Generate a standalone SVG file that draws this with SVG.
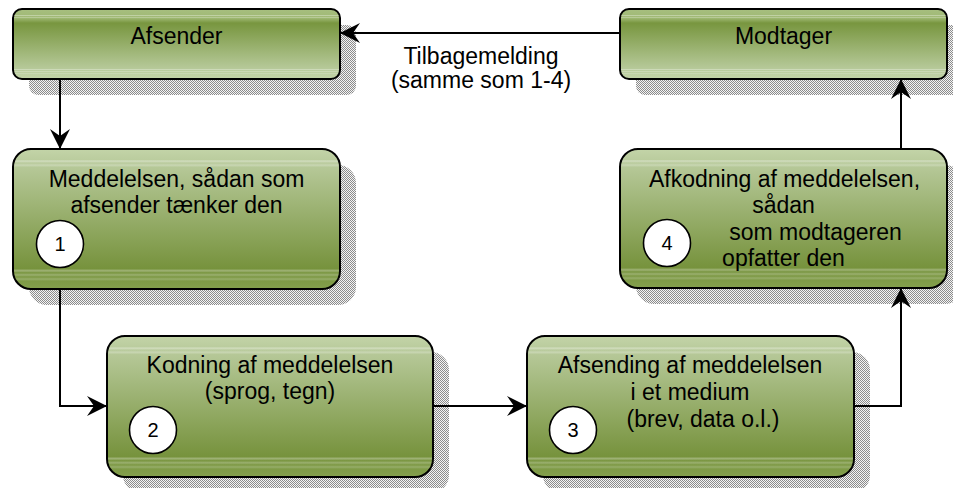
<svg xmlns="http://www.w3.org/2000/svg" width="953" height="488" viewBox="0 0 953 488">
  <defs>
    <style>
      .box { stroke: #000; stroke-width: 2; }
      .top { fill: url(#gDown); }
      .step { fill: url(#gUp); }
      .gloss { fill: url(#gGloss); stroke: none; }
      .shadow { fill: url(#dither); }
      .lbl { font-family: "Liberation Sans", Arial, sans-serif; font-size: 23px; fill: #000; text-anchor: middle; }
      .num { font-family: "Liberation Sans", Arial, sans-serif; font-size: 20px; fill: #000; text-anchor: middle; }
      .badge { fill: #fff; stroke: #000; stroke-width: 1.6; }
      .wire { fill: none; stroke: #000; stroke-width: 2; marker-end: url(#arrow); }
    </style>
    <!-- dithered drop shadow -->
    <pattern id="dither" width="2" height="2" patternUnits="userSpaceOnUse">
      <rect x="0" y="0" width="1" height="1" fill="#8c8c8c"/>
      <rect x="1" y="1" width="1" height="1" fill="#8c8c8c"/>
      <rect x="1" y="0" width="1" height="1" fill="#f4f4f4"/>
      <rect x="0" y="1" width="1" height="1" fill="#f4f4f4"/>
    </pattern>
    <!-- party boxes: dark at top, light at bottom -->
    <linearGradient id="gDown" x1="0" y1="0" x2="0" y2="1">
      <stop offset="0" stop-color="#a7bf80"/>
      <stop offset="0.13" stop-color="#9fb873"/>
      <stop offset="0.2" stop-color="#78963f"/>
      <stop offset="0.85" stop-color="#b6c999"/>
      <stop offset="1" stop-color="#c3d4a8"/>
    </linearGradient>
    <!-- process boxes: light at top, dark at bottom -->
    <linearGradient id="gUp" x1="0" y1="0" x2="0" y2="1">
      <stop offset="0" stop-color="#c3d4a8"/>
      <stop offset="0.1" stop-color="#b8ca9b"/>
      <stop offset="0.86" stop-color="#76923c"/>
      <stop offset="1" stop-color="#84a04d"/>
    </linearGradient>
    <!-- thin glossy highlight bands near the edges -->
    <linearGradient id="gGloss" x1="0" y1="0" x2="0" y2="1">
      <stop offset="0" stop-color="#fff" stop-opacity="0"/>
      <stop offset="0.07" stop-color="#fff" stop-opacity="0"/>
      <stop offset="0.08" stop-color="#fff" stop-opacity="0.35"/>
      <stop offset="0.095" stop-color="#fff" stop-opacity="0"/>
      <stop offset="0.11" stop-color="#fff" stop-opacity="0.25"/>
      <stop offset="0.125" stop-color="#fff" stop-opacity="0"/>
      <stop offset="0.86" stop-color="#fff" stop-opacity="0"/>
      <stop offset="0.875" stop-color="#fff" stop-opacity="0.3"/>
      <stop offset="0.89" stop-color="#fff" stop-opacity="0"/>
      <stop offset="0.905" stop-color="#fff" stop-opacity="0.25"/>
      <stop offset="0.92" stop-color="#fff" stop-opacity="0"/>
      <stop offset="0.935" stop-color="#fff" stop-opacity="0.2"/>
      <stop offset="0.95" stop-color="#fff" stop-opacity="0"/>
      <stop offset="1" stop-color="#fff" stop-opacity="0"/>
    </linearGradient>
    <marker id="arrow" viewBox="0 -10 20 20" refX="20" refY="0" markerWidth="20" markerHeight="20" markerUnits="userSpaceOnUse" orient="auto">
      <path d="M0,-10 L20,0 L0,10 L7,0 Z" fill="#000"/>
    </marker>
  </defs>

  <rect width="953" height="488" fill="#fff"/>

  <g id="afsender">
    <rect class="shadow" x="29" y="25" width="327" height="70" rx="9"/>
    <rect class="box top" x="13" y="9" width="327" height="70" rx="9"/>
    <rect class="gloss" x="14" y="10" width="325" height="68" rx="8"/>
    <text class="lbl" x="176.5" y="44">Afsender</text>
  </g>

  <g id="modtager">
    <rect class="shadow" x="636" y="25" width="327" height="70" rx="9"/>
    <rect class="box top" x="620" y="9" width="327" height="70" rx="9"/>
    <rect class="gloss" x="621" y="10" width="325" height="68" rx="8"/>
    <text class="lbl" x="783.5" y="44">Modtager</text>
  </g>

  <g id="step1">
    <rect class="shadow" x="29" y="165" width="327" height="140" rx="18"/>
    <rect class="box step" x="13" y="149" width="327" height="140" rx="18"/>
    <rect class="gloss" x="14" y="150" width="325" height="138" rx="17"/>
    <text class="lbl" x="176.5" y="187">Meddelelsen, sådan som</text>
    <text class="lbl" x="176.5" y="213">afsender tænker den</text>
    <circle class="badge" cx="60" cy="244" r="23.5"/>
    <text class="num" x="60" y="251">1</text>
  </g>

  <g id="step2">
    <rect class="shadow" x="123" y="352" width="326" height="141" rx="18"/>
    <rect class="box step" x="107" y="336" width="326" height="141" rx="18"/>
    <rect class="gloss" x="108" y="337" width="324" height="139" rx="17"/>
    <text class="lbl" x="270" y="373">Kodning af meddelelsen</text>
    <text class="lbl" x="270" y="399">(sprog, tegn)</text>
    <circle class="badge" cx="153" cy="430" r="23.5"/>
    <text class="num" x="153" y="437">2</text>
  </g>

  <g id="step3">
    <rect class="shadow" x="543" y="352" width="327" height="141" rx="18"/>
    <rect class="box step" x="527" y="336" width="327" height="141" rx="18"/>
    <rect class="gloss" x="528" y="337" width="325" height="139" rx="17"/>
    <text class="lbl" x="690" y="373">Afsending af meddelelsen</text>
    <text class="lbl" x="690" y="400">i et medium</text>
    <text class="lbl" x="703" y="427">(brev, data o.l.)</text>
    <circle class="badge" cx="573" cy="430" r="23.5"/>
    <text class="num" x="573" y="437">3</text>
  </g>

  <g id="step4">
    <rect class="shadow" x="636" y="165" width="327" height="139" rx="18"/>
    <rect class="box step" x="620" y="149" width="327" height="139" rx="18"/>
    <rect class="gloss" x="621" y="150" width="325" height="137" rx="17"/>
    <text class="lbl" x="784.5" y="187">Afkodning af meddelelsen,</text>
    <text class="lbl" x="783.5" y="213">sådan</text>
    <text class="lbl" x="815.5" y="240">som modtageren</text>
    <text class="lbl" x="783.5" y="266">opfatter den</text>
    <circle class="badge" cx="667" cy="243" r="23.5"/>
    <text class="num" x="667" y="250">4</text>
  </g>

  <g id="connectors">
    <path class="wire" d="M60,79 V149"/>
    <path class="wire" d="M60,289 V406 H107"/>
    <path class="wire" d="M433,406 H527"/>
    <path class="wire" d="M854,406 H901 V288"/>
    <path class="wire" d="M901,149 V79"/>
    <path class="wire" d="M620,33 H340"/>
    <text class="lbl" x="481" y="64">Tilbagemelding</text>
    <text class="lbl" x="481" y="88">(samme som 1-4)</text>
  </g>
</svg>
